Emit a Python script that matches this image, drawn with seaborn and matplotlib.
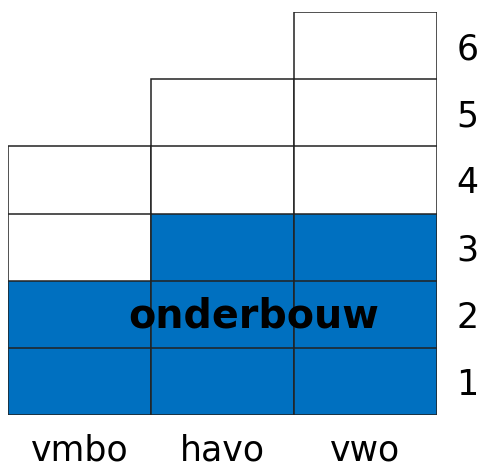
import pandas as pd
import matplotlib.pyplot as plt
import seaborn as sns

schools = ['vmbo', 'havo', 'vwo']
years_per_school = [4, 5, 6]
onderbouw_years = [2, 3, 3]
year_labels = ['1', '2', '3', '4', '5', '6']

blue = '#0070C0'

sns.set_theme(style='white')
plt.rcParams['font.family'] = ['DejaVu Sans']

fig = plt.figure(figsize=(4.91, 4.68), dpi=100)
ax = fig.add_axes([8 / 491, 53 / 468, 429 / 491, 403 / 468])

# draw the cells top-down so each lower year covers the one above it
for k in range(max(years_per_school), 0, -1):
    rows = [(s, k) for s, n in zip(schools, years_per_school) if n >= k]
    df = pd.DataFrame(rows, columns=['school', 'year'])
    pal = {s: (blue if k <= o else 'white') for s, o in zip(schools, onderbouw_years)}
    sns.barplot(data=df, x='school', y='year', order=schools, hue='school',
                hue_order=schools, palette=pal, width=1, edgecolor='#222222',
                linewidth=1.1, saturation=1, legend=False, ax=ax)

ax.set_xlim(-0.5, len(schools) - 0.5)
ax.set_ylim(0, max(years_per_school))
ax.text(1.22, 1.3, 'onderbouw', ha='center', va='baseline',
        fontsize=28.5, fontweight='bold', color='black')

ax.yaxis.tick_right()
ax.set_yticks([i + 0.5 for i in range(len(year_labels))])
ax.set_yticklabels(year_labels, fontsize=25)
ax.set_xticks(range(len(schools)))
ax.set_xticklabels(schools, fontsize=25)
ax.tick_params(axis='y', length=0, pad=14, labelcolor='black')
ax.tick_params(axis='x', length=0, pad=13, labelcolor='black')
ax.set_xlabel('')
ax.set_ylabel('')
for sp in ax.spines.values():
    sp.set_visible(False)

fig.savefig('out.png', dpi=100)
